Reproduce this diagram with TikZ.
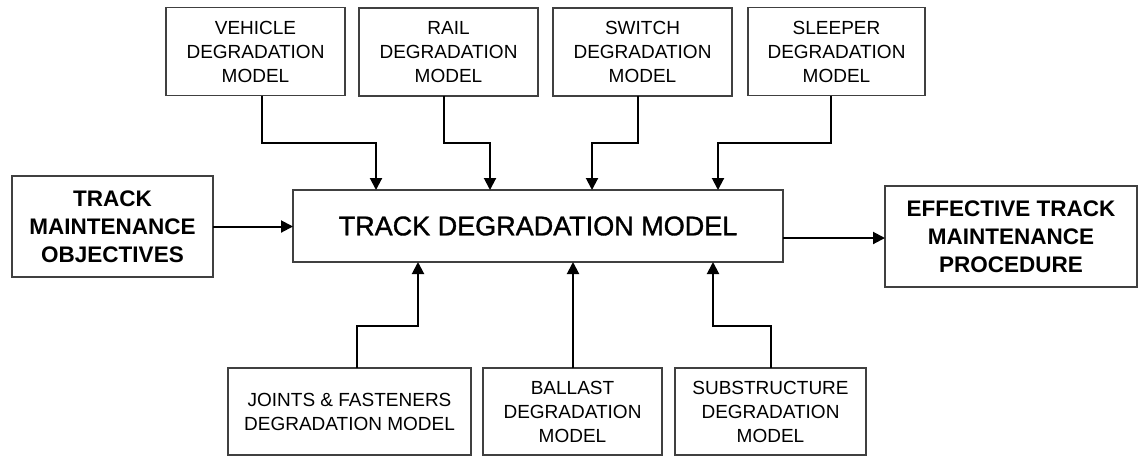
\documentclass[tikz,border=0pt]{standalone}
\usepackage{fontspec}
\setmainfont{Liberation Sans}
\newfontfamily\midfont[FakeBold=1.3]{Liberation Sans}
\usetikzlibrary{arrows.meta}

\tikzset{
  box/.style={draw=black!75, line width=1.3pt, fill=white, align=center,
              inner sep=0pt, outer sep=0pt},
  smallbox/.style={box, font=\fontsize{19}{24}\selectfont},
  bigbox/.style={box, font=\fontsize{22.5}{28}\selectfont\bfseries},
  arr/.style={draw=black, line width=2pt,
              -{Triangle[length=12pt,width=12pt]}},
}

\begin{document}
\begin{tikzpicture}[x=1pt,y=-1pt]
  \useasboundingbox (0,0) rectangle (1139,456);

  % model boxes feeding the central model from above
  \node[smallbox, minimum width=179pt, minimum height=88pt] (veh) at (255.5,51.5)
    {VEHICLE\\DEGRADATION\\MODEL};
  \node[smallbox, minimum width=179pt, minimum height=88pt] (rail) at (448.5,52)
    {RAIL\\DEGRADATION\\MODEL};
  \node[smallbox, minimum width=179pt, minimum height=88pt] (switch) at (642.5,52)
    {SWITCH\\DEGRADATION\\MODEL};
  \node[smallbox, minimum width=177pt, minimum height=88pt] (sleeper) at (836.5,51.5)
    {SLEEPER\\DEGRADATION\\MODEL};

  % central model
  \node[box, font=\fontsize{27}{32}\midfont, minimum width=490pt, minimum height=72pt]
    (tdm) at (538,226) {TRACK DEGRADATION MODEL};

  % input objectives and output procedure
  \node[bigbox, minimum width=201pt, minimum height=101pt] (tmo) at (112.5,226.5)
    {TRACK\\MAINTENANCE\\OBJECTIVES};
  \node[bigbox, minimum width=252pt, minimum height=101pt] (etm) at (1011,236.5)
    {EFFECTIVE TRACK\\MAINTENANCE\\PROCEDURE};

  % model boxes feeding the central model from below
  \node[smallbox, minimum width=243pt, minimum height=87pt] (joints) at (349.5,411.5)
    {JOINTS \& FASTENERS\\DEGRADATION MODEL};
  \node[smallbox, minimum width=179pt, minimum height=87pt] (ballast) at (572.5,411.5)
    {BALLAST\\DEGRADATION\\MODEL};
  \node[smallbox, minimum width=191pt, minimum height=87pt] (subst) at (770.5,411.5)
    {SUBSTRUCTURE\\DEGRADATION\\MODEL};

  % connectors from the upper models
  \draw[arr] ([xshift=6.5pt]veh.south) -- ++(0,47.5) -| ([xshift=-162pt]tdm.north);
  \draw[arr] ([xshift=-4.5pt]rail.south) -- ++(0,47) -| ([xshift=-48pt]tdm.north);
  \draw[arr] ([xshift=-4.5pt]switch.south) -- ++(0,47) -| ([xshift=54pt]tdm.north);
  \draw[arr] ([xshift=-5.5pt]sleeper.south) -- ++(0,47.5) -| ([xshift=180pt]tdm.north);

  % connectors from the lower models
  \draw[arr] ([xshift=7.5pt]joints.north) -- ++(0,-42) -| ([xshift=-120pt]tdm.south);
  \draw[arr] ([xshift=0.5pt]ballast.north) -- ([xshift=0.5pt]ballast.north |- tdm.south);
  \draw[arr] ([xshift=0.5pt]subst.north) -- ++(0,-42) -| ([xshift=175pt]tdm.south);

  % objectives in, procedure out
  \draw[arr] (tmo.east) -- (tmo.east -| tdm.west);
  \draw[arr] ([yshift=-12pt]tdm.east) -- ([yshift=-12pt]tdm.east -| etm.west);
\end{tikzpicture}
\end{document}
